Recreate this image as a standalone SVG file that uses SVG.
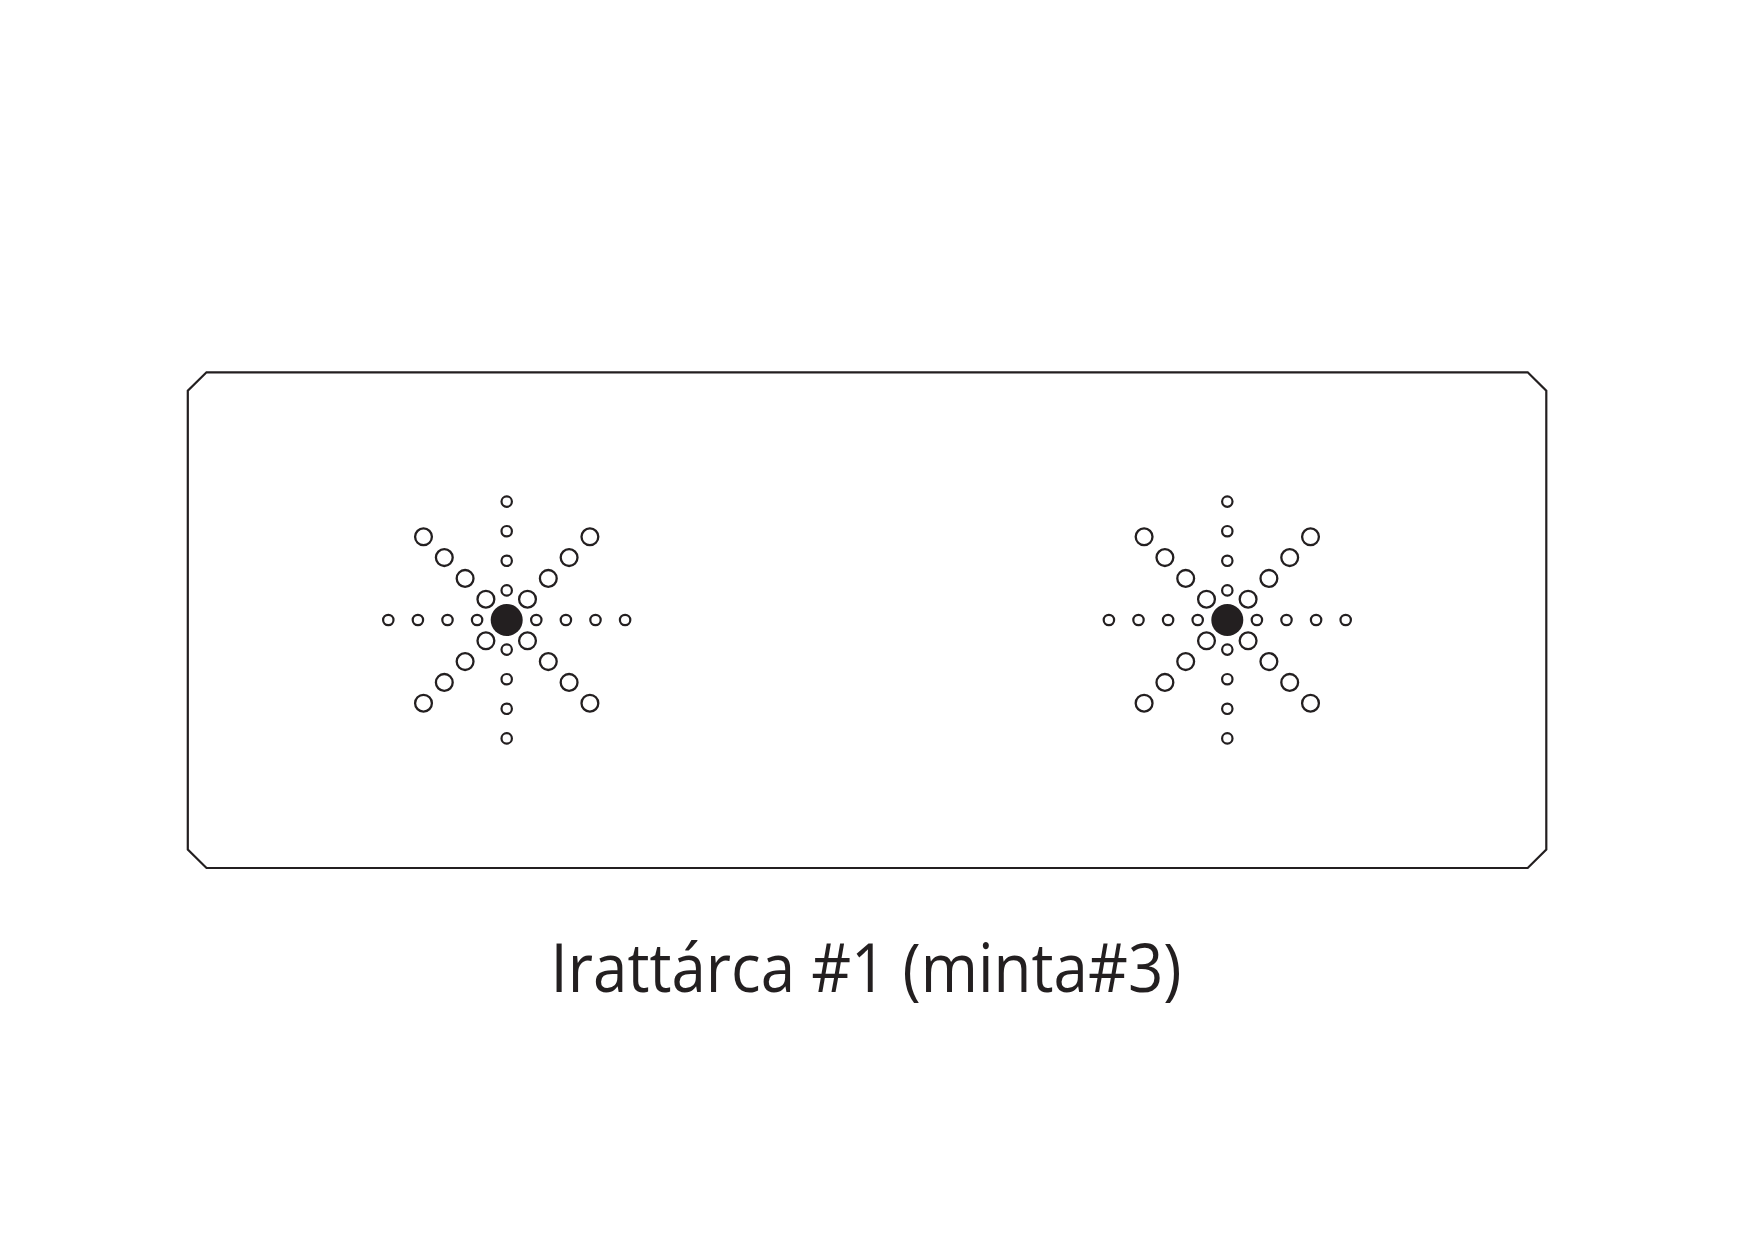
<svg xmlns="http://www.w3.org/2000/svg" xmlns:xlink="http://www.w3.org/1999/xlink" width="1744" height="1240" viewBox="0 0 1744 1240">
<style>
.frame{fill:none;stroke:#231f20;stroke-width:2.2}
.s{fill:none;stroke:#231f20;stroke-width:2.2}
.l{fill:none;stroke:#231f20;stroke-width:2.3}
.c{fill:#231f20}
.t{font-family:"Open Sans","Noto Sans","Liberation Sans",sans-serif;font-size:67px;fill:#231f20}
</style>
<defs>
<g id="star">
<circle class="c" cx="0" cy="0" r="16"/>
<circle class="s" cx="29.6" cy="0" r="5.2"/><circle class="s" cx="59.2" cy="0" r="5.2"/><circle class="s" cx="88.8" cy="0" r="5.2"/><circle class="s" cx="118.4" cy="0" r="5.2"/>
<circle class="s" cx="-29.6" cy="0" r="5.2"/><circle class="s" cx="-59.2" cy="0" r="5.2"/><circle class="s" cx="-88.8" cy="0" r="5.2"/><circle class="s" cx="-118.4" cy="0" r="5.2"/>
<circle class="s" cx="0" cy="29.6" r="5.2"/><circle class="s" cx="0" cy="59.2" r="5.2"/><circle class="s" cx="0" cy="88.8" r="5.2"/><circle class="s" cx="0" cy="118.4" r="5.2"/>
<circle class="s" cx="0" cy="-29.6" r="5.2"/><circle class="s" cx="0" cy="-59.2" r="5.2"/><circle class="s" cx="0" cy="-88.8" r="5.2"/><circle class="s" cx="0" cy="-118.4" r="5.2"/>
<circle class="l" cx="20.8" cy="20.8" r="8.4"/><circle class="l" cx="41.6" cy="41.6" r="8.4"/><circle class="l" cx="62.4" cy="62.4" r="8.4"/><circle class="l" cx="83.2" cy="83.2" r="8.4"/>
<circle class="l" cx="-20.8" cy="20.8" r="8.4"/><circle class="l" cx="-41.6" cy="41.6" r="8.4"/><circle class="l" cx="-62.4" cy="62.4" r="8.4"/><circle class="l" cx="-83.2" cy="83.2" r="8.4"/>
<circle class="l" cx="20.8" cy="-20.8" r="8.4"/><circle class="l" cx="41.6" cy="-41.6" r="8.4"/><circle class="l" cx="62.4" cy="-62.4" r="8.4"/><circle class="l" cx="83.2" cy="-83.2" r="8.4"/>
<circle class="l" cx="-20.8" cy="-20.8" r="8.4"/><circle class="l" cx="-41.6" cy="-41.6" r="8.4"/><circle class="l" cx="-62.4" cy="-62.4" r="8.4"/><circle class="l" cx="-83.2" cy="-83.2" r="8.4"/>
</g>
</defs>
<rect width="1744" height="1240" fill="#ffffff"/>
<g id="tray">
<path class="frame" d="M206.5 372.3 H1527.7 L1546.3 390.8 V849.5 L1527.7 868 H206.5 L187.8 849.5 V390.8 Z"/>
</g>
<g id="pattern-left"><use xlink:href="#star" href="#star" x="506.7" y="620"/></g>
<g id="pattern-right"><use xlink:href="#star" href="#star" x="1227.3" y="620"/></g>
<g id="connectors"/>
<g id="caption">
<text class="t" x="866" y="992" text-anchor="middle" textLength="631" lengthAdjust="spacingAndGlyphs">Irattárca #1 (minta#3)</text>
</g>
</svg>
